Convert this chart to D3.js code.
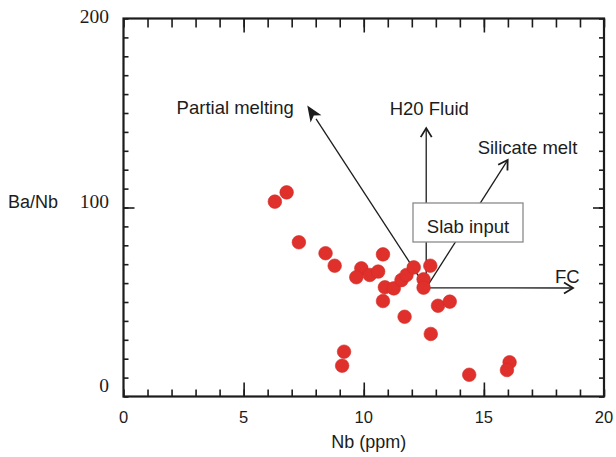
<!DOCTYPE html>
<html>
<head>
<meta charset="utf-8">
<script src="https://cdn.jsdelivr.net/npm/d3@7"></script>
<style>
  html, body { margin: 0; padding: 0; background: #fff; }
  svg { display: block; }
</style>
</head>
<body>
<svg id="chart" width="616" height="457"></svg>
<script>
// ---- Data ----
const nb   = [6.30, 6.79, 7.30, 8.41, 8.79, 10.80, 9.90, 9.69, 10.25, 10.60, 10.88, 11.25, 11.57, 11.78, 12.08, 12.77, 12.49, 12.49, 10.80, 11.70, 13.09, 13.58, 12.79, 9.18, 9.10, 14.39, 16.07, 15.96];
const baNb = [103.1, 108.0, 81.6, 75.8, 69.2, 75.2, 67.8, 63.1, 64.3, 66.1, 57.8, 57.2, 61.6, 64.3, 68.3, 69.2, 62.0, 57.6, 50.5, 42.2, 48.0, 50.2, 33.1, 23.7, 16.3, 11.5, 18.1, 14.0];

const xTickLabels = [0, 5, 10, 15, 20];
const yTickLabels = [0, 100, 200];

// arrow vectors (data coords): origin -> tip
const arrowNames = ["Partial melting", "H20 Fluid", "Silicate melt", "FC"];
const arrowOrigin = [12.6, 57.5];
const arrowTipX = [7.65, 12.6, 15.99, 18.71];
const arrowTipY = [154.0, 142.0, 125.1, 57.4];
const arrowFilled = [true, false, false, false];
const labelX = [2.21, 11.08, 14.74, 17.96];
const labelY = [149.5, 149.2, 128.3, 60.0];

// ---- Layout ----
const svg = d3.select("#chart");
const L = 123.5, R = 604, T = 18.5, B = 396.5;
const x = d3.scaleLinear().domain([0, 20]).range([L, R]);
const y = d3.scaleLinear().domain([0, 200]).range([B, T]);
const ink = "#1c1c1c";

// ticks
function styleAxis(g) {
  g.select(".domain").remove();
  g.selectAll("line").attr("stroke", ink).attr("stroke-width", 1.6);
  g.selectAll("text").remove();
}
svg.append("g").attr("transform", `translate(0,${B})`)
  .call(d3.axisBottom(x).tickValues(d3.range(0, 21, 1)).tickSize(-7)).call(styleAxis);
svg.append("g").attr("transform", `translate(0,${B})`)
  .call(d3.axisBottom(x).tickValues([5, 10, 15]).tickSize(-14)).call(styleAxis);
svg.append("g").attr("transform", `translate(0,${T})`)
  .call(d3.axisTop(x).tickValues(d3.range(0, 21, 1)).tickSize(-9)).call(styleAxis);
svg.append("g").attr("transform", `translate(0,${T})`)
  .call(d3.axisTop(x).tickValues([5, 10, 15]).tickSize(-14)).call(styleAxis);
svg.append("g").attr("transform", `translate(${L},0)`)
  .call(d3.axisLeft(y).tickValues(d3.range(0, 201, 10)).tickSize(-5)).call(styleAxis);
svg.append("g").attr("transform", `translate(${L},0)`)
  .call(d3.axisLeft(y).tickValues([100]).tickSize(-11)).call(styleAxis);
svg.append("g").attr("transform", `translate(${R},0)`)
  .call(d3.axisRight(y).tickValues(d3.range(0, 201, 10)).tickSize(-5)).call(styleAxis);
svg.append("g").attr("transform", `translate(${R},0)`)
  .call(d3.axisRight(y).tickValues([100]).tickSize(-11)).call(styleAxis);

// frame
svg.append("rect").attr("x", L).attr("y", T).attr("width", R - L).attr("height", B - T)
  .attr("fill", "none").attr("stroke", ink).attr("stroke-width", 2.2);

// tick labels
svg.append("g").selectAll("text").data(xTickLabels).join("text")
  .attr("x", d => x(d)).attr("y", 423)
  .attr("text-anchor", "middle")
  .attr("font-family", "Liberation Sans, Arial, sans-serif").attr("font-size", 16.5)
  .attr("fill", ink).text(d => d);
const yOff = {0: -4.5, 100: 0.5, 200: 4.5};
svg.append("g").selectAll("text").data(yTickLabels).join("text")
  .attr("x", 109).attr("y", d => y(d) + yOff[d])
  .attr("text-anchor", "end")
  .attr("font-family", "Liberation Serif, Times New Roman, serif").attr("font-size", 19.5)
  .attr("fill", ink).text(d => d);

// axis titles
svg.append("text").attr("x", (L + R) / 2 + 5).attr("y", 448)
  .attr("text-anchor", "middle")
  .attr("font-family", "Liberation Sans, Arial, sans-serif").attr("font-size", 18)
  .attr("fill", ink).text("Nb (ppm)");
svg.append("text").attr("x", 8).attr("y", 208)
  .attr("font-family", "Liberation Sans, Arial, sans-serif").attr("font-size", 18)
  .attr("fill", ink).text("Ba/Nb");

// arrows
const ag = svg.append("g");
arrowNames.forEach((name, i) => {
  const x0 = x(arrowOrigin[0]), y0 = y(arrowOrigin[1]);
  const x1 = x(arrowTipX[i]), y1 = y(arrowTipY[i]);
  const ang = Math.atan2(y1 - y0, x1 - x0);
  if (arrowFilled[i]) {
    const len = 16, hw = 6.5;
    const bx = x1 - len * Math.cos(ang), by = y1 - len * Math.sin(ang);
    ag.append("line").attr("x1", x0).attr("y1", y0).attr("x2", bx).attr("y2", by)
      .attr("stroke", ink).attr("stroke-width", 1.3);
    const px = -Math.sin(ang), py = Math.cos(ang);
    ag.append("path")
      .attr("d", `M${x1},${y1}L${bx + px * hw},${by + py * hw}L${bx + 4 * Math.cos(ang)},${by + 4 * Math.sin(ang)}L${bx - px * hw},${by - py * hw}Z`)
      .attr("fill", ink);
  } else {
    ag.append("line").attr("x1", x0).attr("y1", y0).attr("x2", x1).attr("y2", y1)
      .attr("stroke", ink).attr("stroke-width", 1.3);
    const len = 9, hw = 5.5;
    const bx = x1 - len * Math.cos(ang), by = y1 - len * Math.sin(ang);
    const px = -Math.sin(ang), py = Math.cos(ang);
    ag.append("path")
      .attr("d", `M${bx + px * hw},${by + py * hw}L${x1},${y1}L${bx - px * hw},${by - py * hw}`)
      .attr("fill", "none").attr("stroke", ink).attr("stroke-width", 1.8);
  }
  ag.append("text").attr("x", x(labelX[i])).attr("y", y(labelY[i]))
    .attr("font-family", "Liberation Sans, Arial, sans-serif").attr("font-size", 18.5)
    .attr("fill", ink).text(name);
});

// slab input box
svg.append("rect").attr("x", 413).attr("y", 203).attr("width", 110).attr("height", 39)
  .attr("fill", "#fff").attr("stroke", "#8a8a8a").attr("stroke-width", 1.3);
svg.append("text").attr("x", 468).attr("y", 233).attr("text-anchor", "middle")
  .attr("font-family", "Liberation Sans, Arial, sans-serif").attr("font-size", 18.5)
  .attr("fill", ink).text("Slab input");

// points
svg.append("g").selectAll("circle").data(nb.map((v, i) => [v, baNb[i]])).join("circle")
  .attr("cx", d => x(d[0])).attr("cy", d => y(d[1])).attr("r", 6.8)
  .attr("fill", "#e0302b").attr("stroke", "#d42a26").attr("stroke-width", 0.6);
</script>
</body>
</html>
